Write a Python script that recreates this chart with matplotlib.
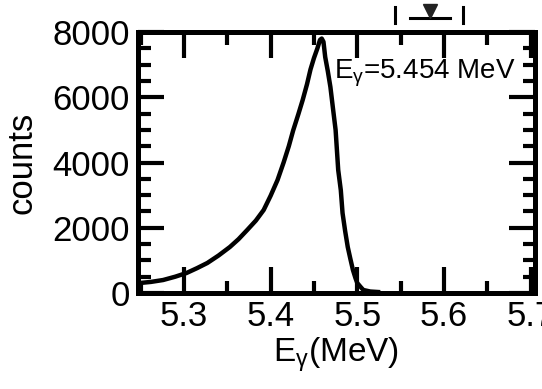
import matplotlib
matplotlib.use('Agg')
import matplotlib.pyplot as plt
from matplotlib.lines import Line2D
from matplotlib.ticker import MultipleLocator

plt.rcParams['font.family'] = ['Liberation Sans', 'DejaVu Sans']
plt.rcParams['mathtext.fontset'] = 'custom'
plt.rcParams['mathtext.rm'] = 'Liberation Sans'
plt.rcParams['mathtext.it'] = 'Liberation Sans'

# spectrum
energy = [5.247, 5.249, 5.262, 5.276, 5.290, 5.303, 5.315, 5.327, 5.340, 5.353,
          5.363, 5.373, 5.383, 5.392, 5.400, 5.408, 5.415, 5.421, 5.426,
          5.432, 5.437, 5.442, 5.446, 5.450, 5.454, 5.457, 5.459, 5.461,
          5.463, 5.466, 5.469, 5.472, 5.475, 5.478, 5.481, 5.483, 5.486,
          5.489, 5.492, 5.495, 5.498, 5.500, 5.504, 5.507, 5.515, 5.524]
counts = [280, 306, 340, 398, 500, 613, 760, 920, 1150, 1410,
          1650, 1931, 2220, 2544, 2980, 3463, 4000, 4500, 4980,
          5480, 5915, 6400, 6850, 7200, 7500, 7760, 7800, 7700,
          7233, 6800, 6314, 5650, 4996, 3770, 3150, 2452, 1900,
          1410, 1050, 705, 450, 306, 180, 92, 45, 30]

xticks = [5.3, 5.4, 5.5, 5.6, 5.7]
xticklabels = ['5.3', '5.4', '5.5', '5.6', '5.7']
yticks = [0, 2000, 4000, 6000, 8000]
yticklabels = ['0', '2000', '4000', '6000', '8000']

fig = plt.figure(figsize=(5.42, 3.89), dpi=100)
ax = fig.add_axes([0.2546, 0.2468, 0.7324, 0.6709])

ax.plot(energy, counts, color='black', linewidth=3.2)

ax.set_xlim(5.247, 5.705)
ax.set_ylim(0, 8000)
ax.set_xticks(xticks)
ax.set_xticklabels(xticklabels)
ax.set_yticks(yticks)
ax.set_yticklabels(yticklabels)
ax.xaxis.set_minor_locator(MultipleLocator(0.05))
ax.yaxis.set_minor_locator(MultipleLocator(500))

ax.tick_params(which='major', direction='in', top=True, right=True,
               length=19, width=3, labelsize=25, pad=6)
ax.tick_params(which='minor', direction='in', top=True, right=True,
               length=9, width=3)
ax.tick_params(axis='x', which='major', pad=5)
for spine in ax.spines.values():
    spine.set_linewidth(3.6)

ax.set_xlabel(r'E$_\gamma$(MeV)', fontsize=24, labelpad=2)
ax.set_ylabel('counts', fontsize=25, labelpad=10)

ax.text(0.95, 0.843, r'E$_\gamma$=5.454 MeV', transform=ax.transAxes,
        fontsize=20, ha='right', va='center')

# bits of the neighbouring panel that show above the frame
W, H = 542, 389
def px(x, y):
    return x / W, 1 - y / H
for xs, ys in [((395, 395), (7, 23)), ((463, 463), (7, 23)), ((410, 450), (18, 18))]:
    p0 = px(xs[0], ys[0])
    p1 = px(xs[1], ys[1])
    fig.add_artist(Line2D([p0[0], p1[0]], [p0[1], p1[1]], transform=fig.transFigure,
                          color='black', linewidth=2.2))
tri = px(430, 11)
fig.add_artist(Line2D([tri[0]], [tri[1]], transform=fig.transFigure, marker='v',
                      markersize=10, color='#222222', linestyle='none'))

fig.savefig('out.png', dpi=100)
